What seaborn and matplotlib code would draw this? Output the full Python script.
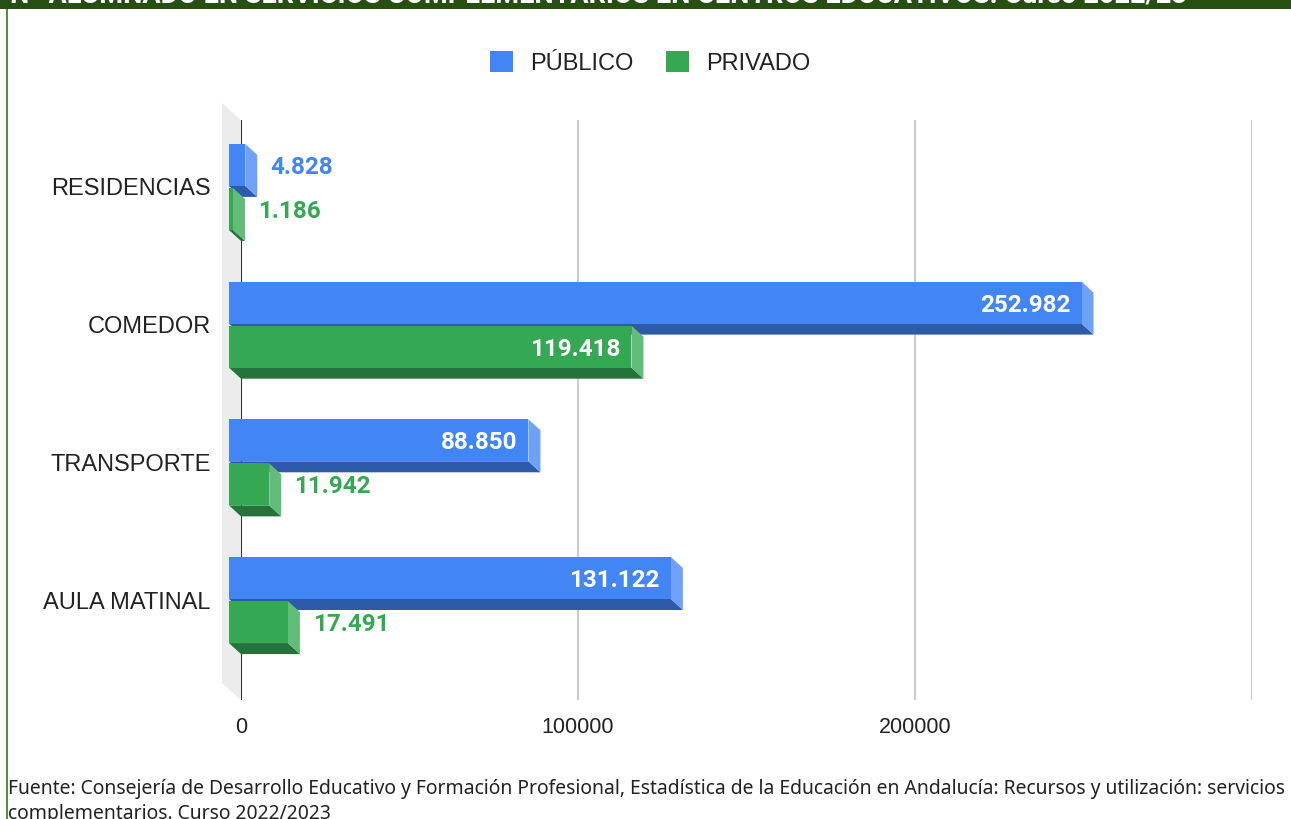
import numpy as np
import pandas as pd
import matplotlib
matplotlib.use("Agg")
import matplotlib.pyplot as plt
from matplotlib.patches import Polygon, Patch, Rectangle
from matplotlib.lines import Line2D
import seaborn as sns

# datos
categorias = ["RESIDENCIAS", "COMEDOR", "TRANSPORTE", "AULA MATINAL"]
series = ["PÚBLICO", "PRIVADO"]
publico = [4828, 252982, 88850, 131122]
privado = [1186, 119418, 11942, 17491]
ticks_x = [0, 100000, 200000, 300000]
etiquetas_x = ["0", "100000", "200000", ""]

titulo = "Nº ALUMNADO EN SERVICIOS COMPLEMENTARIOS EN CENTROS EDUCATIVOS. Curso 2022/23"
fuente_1 = ("Fuente: Consejería de Desarrollo Educativo y Formación Profesional, "
            "Estadística de la Educación en Andalucía: Recursos y utilización: servicios")
fuente_2 = "complementarios. Curso 2022/2023"

# colores: frente, lateral (claro), base (oscuro)
frente = ["#4285F4", "#34A853"]
lateral = ["#6FA1F6", "#62BD7A"]
base = ["#2E5BA9", "#24733A"]

df = pd.DataFrame({
    "categoria": categorias * 2,
    "serie": [series[0]] * len(categorias) + [series[1]] * len(categorias),
    "valor": publico + privado,
})

W, H = 1291, 819
fig = plt.figure(figsize=(W / 100, H / 100), dpi=100)
ax = fig.add_axes([241 / W, 1 - 700 / H, (1252 - 241) / W, 580 / H])

sns.barplot(data=df, x="valor", y="categoria", hue="serie", orient="h",
            palette=frente, saturation=1, width=0.64, gap=0.047,
            legend=False, linewidth=0, ax=ax)

ax.set_xlim(0, 300000)
ax.set_ylim(3.646, -0.566)
for s in ax.spines.values():
    s.set_visible(False)
ax.set_xlabel("")
ax.set_ylabel("")


# desplazamiento 3D (pixeles -> datos)
def px_a_datos(dx, dy):
    inv = ax.transData.inverted()
    x0, y0 = ax.transData.transform((0, 0))
    a = inv.transform((x0 + dx, y0 + dy))
    b = inv.transform((x0, y0))
    return a[0] - b[0], a[1] - b[1]


dxd, dyd = px_a_datos(-12, 11)
px_por_unidad = 1 / px_a_datos(1, 0)[0]

for k, cont in enumerate(ax.containers):
    for rect in cont:
        x0, w, y0, h = rect.get_x(), rect.get_width(), rect.get_y(), rect.get_height()
        z = 3 + k
        fondo_inf = [(x0 + dxd, y0 + h + dyd), (x0 + w + dxd, y0 + h + dyd),
                     (x0 + w, y0 + h), (x0, y0 + h)]
        lado = [(x0 + w + dxd, y0 + dyd), (x0 + w, y0),
                (x0 + w, y0 + h), (x0 + w + dxd, y0 + h + dyd)]
        ax.add_patch(Polygon(fondo_inf, closed=True, facecolor=base[k], lw=0,
                             zorder=z - 0.1, clip_on=False))
        ax.add_patch(Polygon(lado, closed=True, facecolor=lateral[k], lw=0,
                             zorder=z - 0.1, clip_on=False))
        rect.set_xy((x0 + dxd, y0 + dyd))
        rect.set_zorder(z)
        rect.set_clip_on(False)

        texto = f"{int(round(w)):,}".replace(",", ".")
        yc = y0 + h / 2 + dyd
        if w * px_por_unidad > 120:
            ax.annotate(texto, (x0 + w + dxd, yc), xytext=(-11 * 0.72, 0),
                        textcoords="offset points", ha="right", va="center_baseline",
                        color="white", fontweight="bold", fontsize=17.5,
                        family="Roboto", zorder=10)
        else:
            ax.annotate(texto, (x0 + w, yc), xytext=(13 * 0.72, 0),
                        textcoords="offset points", ha="left", va="center_baseline",
                        color=frente[k], fontweight="bold", fontsize=17.5,
                        family="Roboto", zorder=10)

# pared gris del fondo
dxa, dya = -19 / (1252 - 241), 17 / 580
ax.add_patch(Polygon([(0, 1), (0, 0), (dxa, dya), (dxa, 1 + dya)], closed=True,
                     facecolor="#ececec", lw=0, zorder=0.5, clip_on=False,
                     transform=ax.transAxes))

ax.set_yticks(np.arange(len(categorias)) + dyd, categorias)
ax.set_xticks(ticks_x, etiquetas_x)
ax.tick_params(axis="y", length=0, pad=30 * 0.72, labelsize=17)
ax.tick_params(axis="x", length=0, pad=12, labelsize=15.5)
for lab in ax.get_xticklabels() + ax.get_yticklabels():
    lab.set_family("Liberation Sans")
    lab.set_color("#222222")
ax.grid(axis="x", color="#cccccc", lw=1.5)
ax.set_axisbelow(True)
ax.axvline(0, color="#333333", lw=1.5, zorder=2)

# leyenda
handles = [Patch(facecolor=c, label=s) for c, s in zip(frente, series)]
fig.legend(handles=handles, loc="center", bbox_to_anchor=(650 / W, 1 - 63 / H),
           ncol=2, frameon=False, prop={"family": "Liberation Sans", "size": 17},
           handlelength=0.98, handleheight=0.98, handletextpad=0.72,
           columnspacing=1.35, labelcolor="#222222")

# banda del titulo y borde
fig.add_artist(Rectangle((0, 1 - 9 / H), 1, 9 / H, transform=fig.transFigure,
                         facecolor="#274e13", lw=0, zorder=5))
fig.add_artist(Line2D([7 / W, 7 / W], [0, 1 - 9 / H], transform=fig.transFigure,
                      color="#38761d", lw=1.2))
fig.text(10 / W, 1 - 2.5 / H, titulo, color="white", fontweight="bold", fontsize=19.5,
         va="baseline", family="Roboto", zorder=6)

# fuente
fig.text(8 / W, 1 - 789 / H, fuente_1, va="center", ha="left", fontsize=13.9,
         family="Noto Sans", color="#222222")
fig.text(8 / W, 1 - 814 / H, fuente_2, va="center", ha="left", fontsize=13.9,
         family="Noto Sans", color="#222222")

fig.savefig("out.png", dpi=100)
